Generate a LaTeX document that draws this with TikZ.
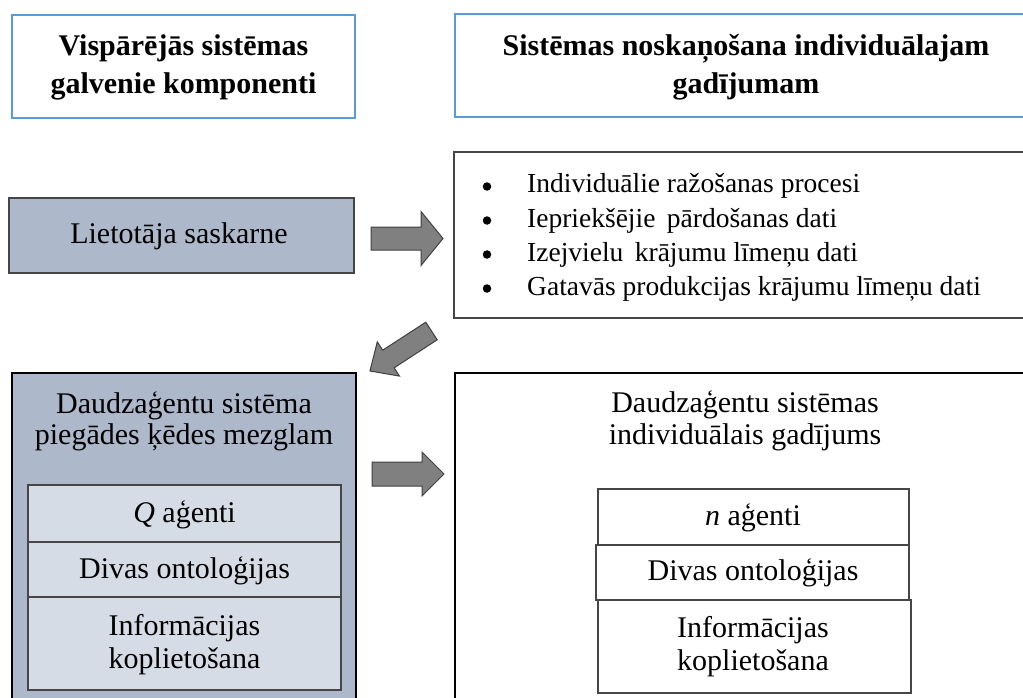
\documentclass[tikz,border=0pt]{standalone}
\usepackage{fontspec}
\setmainfont{Liberation Serif}
\definecolor{titleblue}{RGB}{91,155,213}
\definecolor{slate}{RGB}{173,185,202}
\definecolor{slatelight}{RGB}{214,220,229}
\definecolor{arrowgray}{RGB}{128,128,128}
\definecolor{arrowedge}{RGB}{64,64,64}
\definecolor{boxedge}{RGB}{70,70,70}
\begin{document}
\begin{tikzpicture}[x=1pt,y=-1pt,
  boxbase/.style={rectangle, inner sep=0pt, outer sep=0pt, anchor=north west},
  titlebox/.style={boxbase, draw=titleblue, line width=2.5pt, fill=white},
  uibox/.style={boxbase, draw=boxedge, line width=1.1pt, fill=slate},
  listbox/.style={boxbase, draw=boxedge, line width=1.4pt, fill=white},
  bigslate/.style={boxbase, draw=black, line width=2.6pt, fill=slate},
  bigwhite/.style={boxbase, draw=black, line width=2.2pt, fill=white},
  innerslate/.style={boxbase, draw=boxedge, line width=1.3pt, fill=slatelight},
  innerwhite/.style={boxbase, draw=boxedge, line width=1.3pt, fill=white},
  txt/.style={font=\fontsize{30}{36}\selectfont, anchor=base, inner sep=0pt},
  btxt/.style={txt, font=\fontsize{30}{36}\selectfont\bfseries},
  ltxt/.style={font=\fontsize{27.5}{33}\selectfont, anchor=base west, inner sep=0pt},
  bul/.style={circle, fill=black, inner sep=0pt, minimum size=8.5pt},
  blockarrow/.style={fill=arrowgray, draw=arrowedge, line width=1pt, line join=miter}
]
\useasboundingbox (0,0) rectangle (1023,698);
\clip (0,0) rectangle (1023,698);
\fill[white] (0,0) rectangle (1023,698);

% title boxes
\node[titlebox, minimum width=343pt, minimum height=103pt] (tl) at (12,15) {};
\node[titlebox, minimum width=590pt, minimum height=103pt] (tr) at (455,14) {};
\node[btxt] (tl1) at (183.5,56) {Vispārējās sistēmas};
\node[btxt] (tl2) at (183.5,94) {galvenie komponenti};
\node[btxt] (tr1) at (746,56) {Sistēmas noskaņošana individuālajam};
\node[btxt] (tr2) at (746,94) {gadījumam};

% user interface
\node[uibox, minimum width=345pt, minimum height=75pt] (ui) at (9,198) {};
\node[txt] (uit) at (179,243) {Lietotāja saskarne};

% list box
\node[listbox, minimum width=590pt, minimum height=166pt] (lst) at (454,152) {};
\node[bul] (b1) at (487,186.5) {};
\node[bul] (b2) at (487,220.5) {};
\node[bul] (b3) at (487,254.5) {};
\node[bul] (b4) at (487,288.5) {};
\node[ltxt] (l1) at (527,193) {Individuālie ražošanas procesi};
\node[ltxt] (l2) at (527,227) {Iepriekšējie\, pārdošanas dati};
\node[ltxt] (l3) at (527,261) {Izejvielu\, krājumu līmeņu dati};
\node[ltxt] (l4) at (527,295) {Gatavās produkcijas krājumu līmeņu dati};

% bottom left
\node[bigslate, minimum width=344pt, minimum height=340pt] (bl) at (12,373) {};
\node[txt] (bl1) at (184,413) {Daudzaģentu sistēma};
\node[txt] (bl2) at (184,444) {piegādes ķēdes mezglam};
\node[innerslate, minimum width=313pt, minimum height=57pt] (q) at (28,485) {};
\node[innerslate, minimum width=313pt, minimum height=55pt] (ont) at (28,542) {};
\node[innerslate, minimum width=313pt, minimum height=93pt] (inf) at (28,597) {};
\node[txt] (qt) at (184.5,522) {\textit{Q} aģenti};
\node[txt] (ontt) at (184.5,578) {Divas ontoloģijas};
\node[txt] (inft1) at (184.5,635) {Informācijas};
\node[txt] (inft2) at (184.5,668) {koplietošana};

% bottom right
\node[bigwhite, minimum width=590pt, minimum height=340pt] (br) at (455,373) {};
\node[txt] (br1) at (745,412) {Daudzaģentu sistēmas};
\node[txt] (br2) at (745,444) {individuālais gadījums};
\node[innerwhite, minimum width=311pt, minimum height=56pt] (n) at (598,489) {};
\node[innerwhite, minimum width=313pt, minimum height=55pt] (ont2) at (596,545) {};
\node[innerwhite, minimum width=313pt, minimum height=93pt] (inf2) at (598,600) {};
\node[txt] (nt) at (753,525) {\textit{n} aģenti};
\node[txt] (ont2t) at (753,580) {Divas ontoloģijas};
\node[txt] (inf2t1) at (753,637) {Informācijas};
\node[txt] (inf2t2) at (753,670) {koplietošana};

% block arrows
\draw[blockarrow, shift={(371,238.5)}] (0,-11.5) -- (50,-11.5) -- (50,-27) -- (72,0) -- (50,27) -- (50,11.5) -- (0,11.5) -- cycle;
\draw[blockarrow, shift={(372,474)}] (0,-12) -- (50,-12) -- (50,-22) -- (72,0) -- (50,22) -- (50,12) -- (0,12) -- cycle;
\draw[blockarrow, shift={(431.5,331)}, rotate=213] (0,-10.5) -- (51.4,-10.5) -- (51.4,-20.4) -- (73.4,0) -- (51.4,20.4) -- (51.4,10.5) -- (0,10.5) -- cycle;
\end{tikzpicture}
\end{document}
